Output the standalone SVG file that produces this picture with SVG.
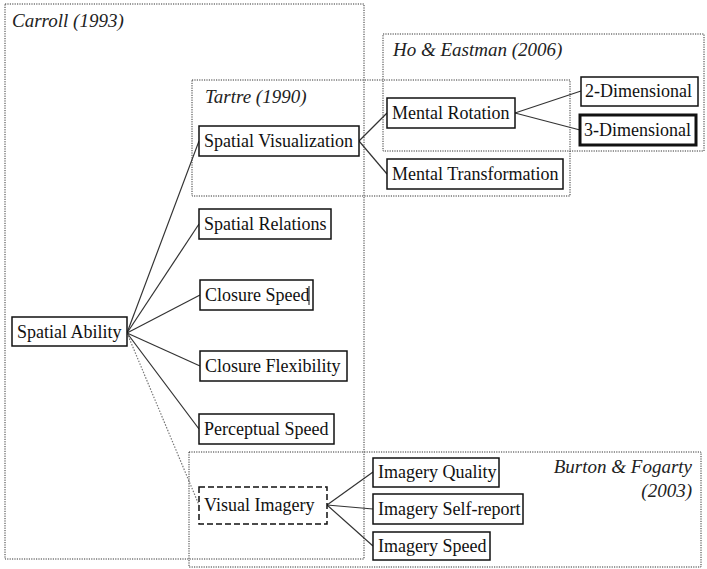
<svg xmlns="http://www.w3.org/2000/svg" width="707" height="569" viewBox="0 0 707 569">
<style>
.grp{fill:none;stroke:#333;stroke-width:1;stroke-dasharray:1.2 1.2}
.node rect{fill:#fff;stroke:#111;stroke-width:1.5}
text{font-family:'Liberation Serif','DejaVu Serif',serif;fill:#111}
.node text{font-size:18px}
.lbl{font-size:19px;font-style:italic;fill:#222}
.con line{stroke:#333;stroke-width:1.2}
.con .dot{stroke:#777;stroke-dasharray:1.5 1.5}
</style>
<rect width="707" height="569" fill="#fff"/>
<g id="groups" font-family="Liberation Serif, serif">
<rect class="grp" x="5" y="4" width="359" height="555"/>
<rect class="grp" x="383" y="34" width="321" height="117"/>
<rect class="grp" x="192" y="80" width="378" height="116"/>
<rect class="grp" x="189" y="452" width="512" height="115"/>
<text class="lbl" x="12" y="27">Carroll (1993)</text>
<text class="lbl" x="205" y="103">Tartre (1990)</text>
<text class="lbl" x="393" y="56">Ho &amp; Eastman (2006)</text>
<text class="lbl" x="692" y="473" text-anchor="end">Burton &amp; Fogarty</text>
<text class="lbl" x="692" y="497" text-anchor="end">(2003)</text>
</g>
<g class="con" id="connectors">
<line x1="127" y1="333" x2="199" y2="141"/>
<line x1="127" y1="333" x2="199" y2="224"/>
<line x1="127" y1="333" x2="200" y2="295"/>
<line x1="127" y1="333" x2="200" y2="366"/>
<line x1="127" y1="333" x2="199" y2="429"/>
<line class="dot" x1="127" y1="333" x2="199" y2="505"/>
<line x1="359" y1="141" x2="387" y2="113"/>
<line x1="359" y1="141" x2="387" y2="174"/>
<line x1="515" y1="113" x2="581" y2="91"/>
<line x1="515" y1="113" x2="580" y2="130"/>
<line x1="327" y1="505" x2="373" y2="472"/>
<line x1="327" y1="505" x2="373" y2="509"/>
<line x1="327" y1="505" x2="373" y2="546"/>
</g>
<g font-family="Liberation Serif, serif">
<g class="node" id="spatial-ability"><rect x="12" y="317" width="115" height="29"/><text x="17" y="338">Spatial Ability</text></g>
<g class="node" id="spatial-visualization"><rect x="199" y="126" width="160" height="30"/><text x="204" y="147">Spatial Visualization</text></g>
<g class="node" id="spatial-relations"><rect x="199" y="209" width="132" height="30"/><text x="204" y="230">Spatial Relations</text></g>
<g class="node" id="closure-speed"><rect x="200" y="280" width="113" height="30"/><text x="205" y="301">Closure Speed</text><line x1="309" y1="286" x2="309" y2="305" stroke="#111" stroke-width="1"/></g>
<g class="node" id="closure-flexibility"><rect x="200" y="351" width="147" height="30"/><text x="205" y="372">Closure Flexibility</text></g>
<g class="node" id="perceptual-speed"><rect x="199" y="414" width="135" height="30"/><text x="204" y="435">Perceptual Speed</text></g>
<g class="node" id="visual-imagery"><rect x="199" y="487" width="128" height="37" style="stroke-dasharray:6 3"/><text x="204" y="511">Visual Imagery</text></g>
<g class="node" id="mental-rotation"><rect x="387" y="98" width="128" height="30"/><text x="392" y="119">Mental Rotation</text></g>
<g class="node" id="mental-transformation"><rect x="387" y="159" width="176" height="30"/><text x="392" y="180">Mental Transformation</text></g>
<g class="node" id="two-dimensional"><rect x="581" y="77" width="117" height="29"/><text x="585" y="97">2-Dimensional</text></g>
<g class="node" id="three-dimensional"><rect x="580" y="115" width="116" height="30" style="stroke-width:3"/><text x="584" y="136">3-Dimensional</text></g>
<g class="node" id="imagery-quality"><rect x="373" y="458" width="126" height="29"/><text x="378" y="478">Imagery Quality</text></g>
<g class="node" id="imagery-self-report"><rect x="373" y="494" width="150" height="30"/><text x="378" y="515">Imagery Self-report</text></g>
<g class="node" id="imagery-speed"><rect x="373" y="532" width="117" height="28"/><text x="378" y="552">Imagery Speed</text></g>
</g>
</svg>
